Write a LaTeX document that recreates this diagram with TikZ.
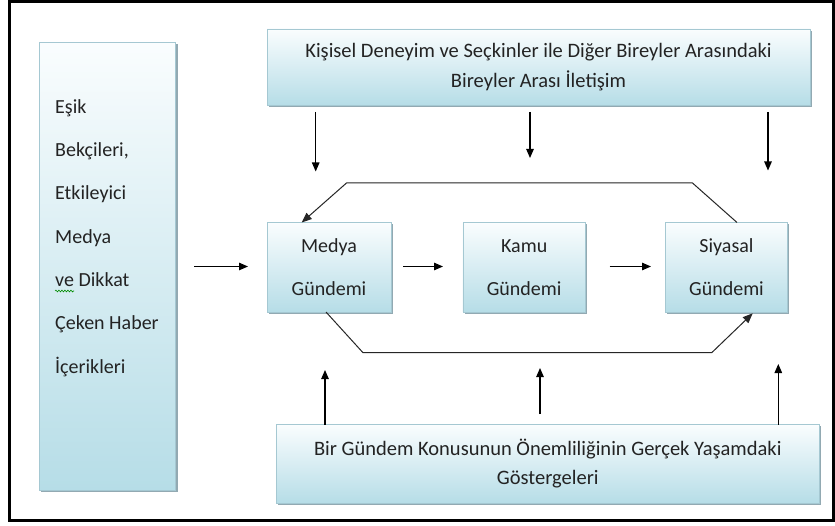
\documentclass[tikz,border=0pt]{standalone}
\usepackage{fontspec}
\setmainfont{Carlito}
\usetikzlibrary{arrows.meta,shadows,calc,decorations.pathmorphing}
\definecolor{boxtop}{RGB}{250,253,254}
\definecolor{boxbot}{RGB}{182,221,231}
\definecolor{boxedge}{RGB}{165,200,210}
\definecolor{shadowc}{RGB}{135,160,170}
\definecolor{textc}{RGB}{35,35,35}
\begin{document}
\begin{tikzpicture}[x=1pt,y=-1pt,
  box/.style={draw=boxedge, line width=0.8pt, top color=boxtop, bottom color=boxbot,
    drop shadow={shadow xshift=1.8pt, shadow yshift=-2pt, fill=shadowc, opacity=0.9},
    inner sep=0pt, align=center, text=textc},
  smallbox/.style={box, minimum height=89.5pt, font=\fontsize{20}{43}\selectfont},
  widebox/.style={box, font=\fontsize{20.5}{29.5}\selectfont},
  arr/.style={line width=1.1pt, -{Triangle[length=9pt,width=7.5pt]}},
  loopline/.style={line width=1pt, draw=black!85, -{Triangle[length=10pt,width=8pt]}}
]
\useasboundingbox (0,0) rectangle (835,526);
\fill[white] (0,0) rectangle (835,526);
\draw[line width=3pt] (9.7,1.3) rectangle (833.5,520.5);

% left box
\node[box, minimum width=136.4pt, minimum height=447.7pt] (lb) at (107.5,266.2) {};
\node[anchor=west, align=left, inner sep=0pt, text=textc, font=\fontsize{20}{43.3}\selectfont] (lt) at (55,238)
  {Eşik\\Bekçileri,\\Etkileyici\\Medya\\ve Dikkat\\Çeken Haber\\İçerikleri};
\draw[green!55!black, line width=0.6pt, decorate, decoration={snake, amplitude=0.9pt, segment length=3pt}] (55,291) -- (74,291);

% top and bottom boxes
\node[widebox, minimum width=543pt, minimum height=76pt] (tb) at (538.5,67)
  {Kişisel Deneyim ve Seçkinler ile Diğer Bireyler Arasındaki\\Bireyler Arası İletişim};
\node[widebox, minimum width=542.3pt, minimum height=78.5pt] (bb) at (547.8,463.7)
  {Bir Gündem Konusunun Önemliliğinin Gerçek Yaşamdaki\\Göstergeleri};

% agenda boxes
\node[smallbox, minimum width=124pt] (mg) at (329,267.2) {Medya\\Gündemi};
\node[smallbox, minimum width=122.5pt] (kg) at (524.2,267.2) {Kamu\\Gündemi};
\node[smallbox, minimum width=122pt] (sg) at (726.5,267.2) {Siyasal\\Gündemi};

% horizontal arrows
\coordinate (in1) at (194,266.5);
\coordinate (in2) at (248,266.5);
\coordinate (mk1) at (403,266.5);
\coordinate (mk2) at (443,266.5);
\coordinate (ks1) at (609.5,266.5);
\coordinate (ks2) at (651,266.5);
\draw[arr] (in1) -- (in2);
\draw[arr] (mk1) -- (mk2);
\draw[arr] (ks1) -- (ks2);

% down arrows from top box
\coordinate (d1s) at (315.7,112); \coordinate (d1e) at (315.7,171.5);
\coordinate (d2s) at (530,112);   \coordinate (d2e) at (530,158);
\coordinate (d3s) at (768,112);   \coordinate (d3e) at (768,170.5);
\draw[arr] (d1s) -- (d1e);
\draw[arr] (d2s) -- (d2e);
\draw[arr] (d3s) -- (d3e);

% up arrows from bottom box
\coordinate (u1s) at (325,424.5); \coordinate (u1e) at (325,370);
\coordinate (u2s) at (540,414);   \coordinate (u2e) at (540,368);
\coordinate (u3s) at (778.3,424.5); \coordinate (u3e) at (778.3,364);
\draw[arr] (u1s) -- (u1e);
\draw[arr] (u2s) -- (u2e);
\draw[arr] (u3s) -- (u3e);

% feedback loops
\coordinate (t1) at (737,222.5);
\coordinate (t4) at (301.7,222.5);
\draw[loopline] (t1) -- (692.5,183) -- (346.5,183) -- (t4);
\coordinate (b1) at (326,312);
\coordinate (b4) at (752.7,313.3);
\draw[loopline] (b1) -- (363,352.7) -- (711.7,352.7) -- (b4);
\end{tikzpicture}
\end{document}
